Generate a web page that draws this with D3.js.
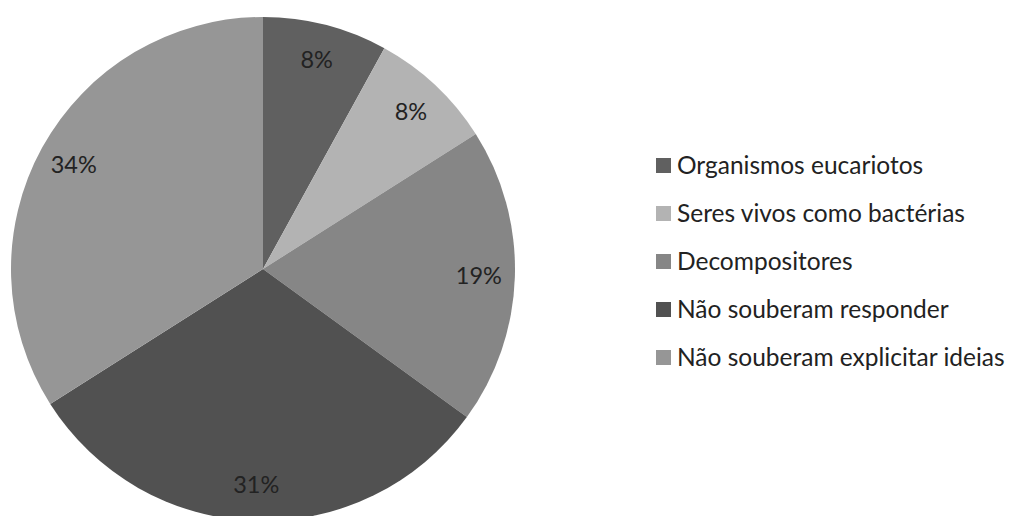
<!DOCTYPE html>
<html>
<head>
<meta charset="utf-8">
<script src="https://cdn.jsdelivr.net/npm/d3@7"></script>
<style>
  body { margin: 0; background: #fff; }
  svg text { font-family: Lato, "Open Sans", sans-serif; fill: #222; }
</style>
</head>
<body>
<svg id="chart" width="1011" height="516"></svg>
<script>
// categories and shares (%)
var categories = ["Organismos eucariotos", "Seres vivos como bactérias", "Decompositores",
                  "Não souberam responder", "Não souberam explicitar ideias"];
var values = [8, 8, 19, 31, 34];
var colors = ["#606060", "#b3b3b3", "#868686", "#515151", "#969696"];

var data = categories.map(function(c, i){
	return {name: c, value: values[i], color: colors[i]};
});

var svg = d3.select("#chart");
var cx = 263, cy = 269, radius = 252;

var pie = d3.pie().sort(null).value(function(d){ return d.value; });
var arc = d3.arc().innerRadius(0).outerRadius(radius);
var labelArc = d3.arc().innerRadius(216).outerRadius(216);

var g = svg.append("g").attr("transform", "translate(" + cx + "," + cy + ")");

var slices = g.selectAll("g.slice")
	.data(pie(data))
	.enter()
	.append("g")
	.attr("class", "slice");

slices.append("path")
	.attr("d", arc)
	.style("fill", function(d){ return d.data.color; });

slices.append("text")
	.attr("transform", function(d){ return "translate(" + labelArc.centroid(d) + ")"; })
	.attr("text-anchor", "middle")
	.attr("dy", "0.35em")
	.style("font-size", "23.5px")
	.text(function(d){ return d.data.value + "%"; });

// legend
var legend = svg.append("g").attr("transform", "translate(656,165)");
var rows = legend.selectAll("g")
	.data(data)
	.enter()
	.append("g")
	.attr("transform", function(d, i){ return "translate(0," + (i * 48) + ")"; });

rows.append("rect")
	.attr("x", 0).attr("y", -7)
	.attr("width", 15).attr("height", 15)
	.style("fill", function(d){ return d.color; });

rows.append("text")
	.attr("x", 21)
	.attr("dy", "0.35em")
	.style("font-size", "24.5px")
	.text(function(d){ return d.name; });
</script>
</body>
</html>
